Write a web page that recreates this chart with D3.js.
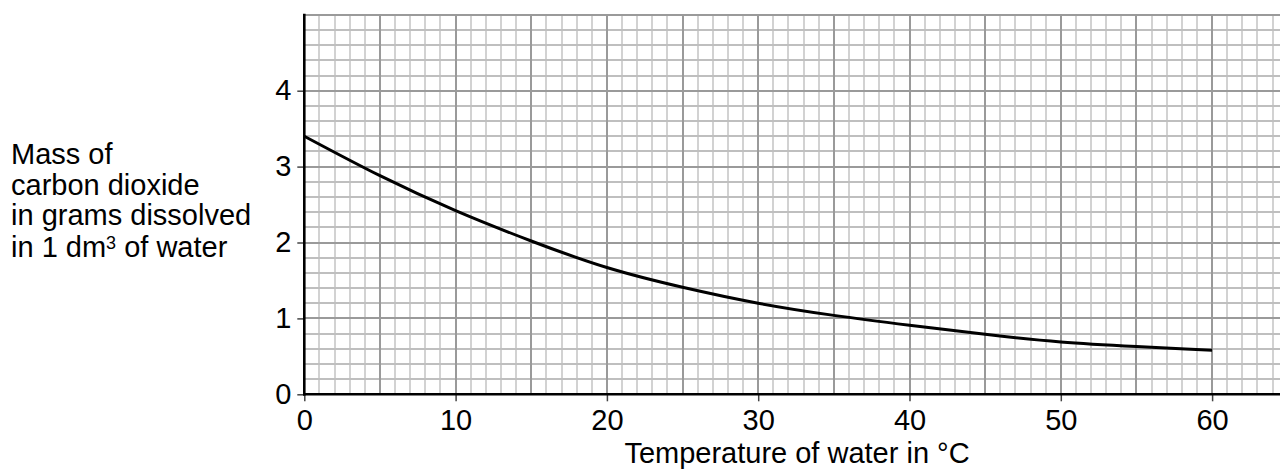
<!DOCTYPE html>
<html>
<head>
<meta charset="utf-8">
<script src="https://cdn.jsdelivr.net/npm/d3@7"></script>
<style>
  html, body { margin: 0; padding: 0; background: #fff; }
  svg { display: block; }
  text { font-family: "Liberation Sans", Arial, Helvetica, sans-serif; fill: #000; }
</style>
</head>
<body>
<svg id="chart" width="1280" height="469"></svg>
<script>
// ---- data ----
const temperature = [0, 5, 10, 15, 20, 25, 30, 35, 40, 45, 50, 55, 60];
const massCO2 = [3.40, 2.88, 2.42, 2.02, 1.67, 1.41, 1.20, 1.04, 0.91, 0.79, 0.69, 0.63, 0.58];
const xTickLabels = [0, 10, 20, 30, 40, 50, 60];
const yTickLabels = [0, 1, 2, 3, 4];
const yLabelLines = ["Mass of", "carbon dioxide", "in grams dissolved"];
const xTitle = "Temperature of water in °C";

// ---- layout ----
const W = 1280, H = 469;
const x0 = 304.3, y0 = 394.3;
const pxPerX = 15.13, pxPerY = 75.9;
const xMax = 65, yMax = 5;

const svg = d3.select("#chart");
const x = d3.scaleLinear().domain([0, xMax]).range([x0, x0 + xMax * pxPerX]);
const y = d3.scaleLinear().domain([0, yMax]).range([y0, y0 - yMax * pxPerY]);
const px = v => Math.round(v);

svg.append("defs").append("clipPath").attr("id", "clip")
  .append("rect").attr("x", x0).attr("y", y(yMax) - 2).attr("width", W - x0).attr("height", y0 - y(yMax) + 4);

const grid = svg.append("g").attr("clip-path", "url(#clip)");

// minor vertical grid lines (every 1 °C)
const vMinor = d3.range(1, 65, 1).filter(v => v % 5 !== 0);
grid.selectAll(".vminor").data(vMinor).join("line")
  .attr("x1", d => px(x(d))).attr("x2", d => px(x(d)))
  .attr("y1", y(yMax)).attr("y2", y0)
  .attr("stroke", "#d2d2d2").attr("stroke-width", 2);

// minor horizontal grid lines (every 0.2)
const hMinor = d3.range(1, 25, 1).filter(v => v % 5 !== 0).map(v => v * 0.2);
grid.selectAll(".hminor").data(hMinor).join("line")
  .attr("x1", x0).attr("x2", W)
  .attr("y1", d => px(y(d))).attr("y2", d => px(y(d)))
  .attr("stroke", "#bfbfbf").attr("stroke-width", 2);

// major vertical grid lines (every 5 °C)
const vMajor = d3.range(5, 65, 5);
grid.selectAll(".vmajor").data(vMajor).join("line")
  .attr("x1", d => px(x(d))).attr("x2", d => px(x(d)))
  .attr("y1", y(yMax)).attr("y2", y0)
  .attr("stroke", "#9a9a9a").attr("stroke-width", 2);

// major horizontal grid lines (every 1)
const hMajor = d3.range(1, 6, 1);
grid.selectAll(".hmajor").data(hMajor).join("line")
  .attr("x1", x0).attr("x2", W)
  .attr("y1", d => px(y(d))).attr("y2", d => px(y(d)))
  .attr("stroke", "#9a9a9a").attr("stroke-width", 2);

// curve
const line = d3.line()
  .x((d, i) => x(temperature[i]))
  .y(d => y(d))
  .curve(d3.curveNatural);
svg.append("path").datum(massCO2)
  .attr("d", line)
  .attr("fill", "none").attr("stroke", "#000").attr("stroke-width", 3)
  .attr("stroke-linecap", "butt");

// axes
const yAxis = d3.axisLeft(y).tickValues(yTickLabels).tickSize(7).tickPadding(6).tickFormat(d3.format("d"));
const gy = svg.append("g").attr("transform", `translate(${x0},0)`).call(yAxis);
gy.select(".domain").remove();
gy.selectAll(".tick line").attr("stroke", "#444").attr("stroke-width", 1.5);
gy.selectAll(".tick text").attr("font-size", 29).attr("font-family", "Liberation Sans, Arial, sans-serif").attr("fill", "#000");

const xAxis = d3.axisBottom(x).tickValues(xTickLabels).tickSize(7).tickPadding(8).tickFormat(d3.format("d"));
const gx = svg.append("g").attr("transform", `translate(0,${y0})`).call(xAxis);
gx.select(".domain").remove();
gx.selectAll(".tick line").attr("stroke", "#444").attr("stroke-width", 1.5);
gx.selectAll(".tick text").attr("font-size", 29).attr("font-family", "Liberation Sans, Arial, sans-serif").attr("fill", "#000");

// axis lines
svg.append("line").attr("x1", x0).attr("x2", x0).attr("y1", y(yMax) - 1).attr("y2", y0 + 1.2)
  .attr("stroke", "#000").attr("stroke-width", 2.6);
svg.append("line").attr("x1", x0 - 1.3).attr("x2", W).attr("y1", y0).attr("y2", y0)
  .attr("stroke", "#000").attr("stroke-width", 2.6);

// x title
svg.append("text").attr("x", 797).attr("y", 463).attr("text-anchor", "middle")
  .attr("font-size", 29).text(xTitle);

// y title (multi-line, left)
const yt = svg.append("g");
const baseY = 164, lh = 30.5;
yLabelLines.forEach((s, i) => {
  yt.append("text").attr("x", 11).attr("y", baseY + i * lh).attr("font-size", 29).text(s);
});
const last = yt.append("text").attr("x", 11).attr("y", baseY + 3 * lh + 1).attr("font-size", 29);
last.append("tspan").text("in 1 dm");
last.append("tspan").attr("font-size", 18).attr("dy", -8).text("3");
last.append("tspan").attr("dy", 8).text(" of water");
</script>
</body>
</html>
